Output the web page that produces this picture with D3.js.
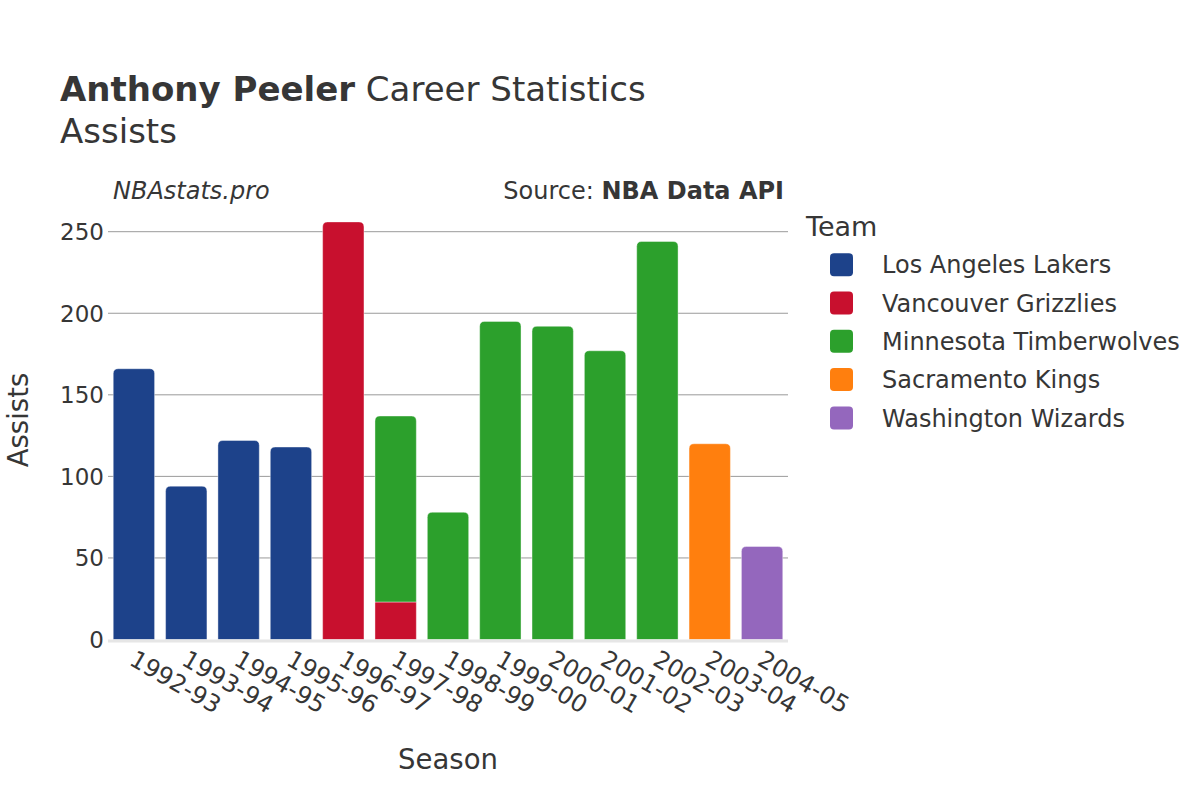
<!DOCTYPE html>
<html>
<head>
<meta charset="utf-8">
<script src="https://cdn.jsdelivr.net/npm/d3@7"></script>
<style>
  body { margin: 0; background: #fff; }
  svg { font-family: "DejaVu Sans", sans-serif; }
</style>
</head>
<body>
<svg id="chart" width="1200" height="800"></svg>
<script>
const seasons = ["1992-93","1993-94","1994-95","1995-96","1996-97","1997-98","1998-99","1999-00","2000-01","2001-02","2002-03","2003-04","2004-05"];
const teams = ["Los Angeles Lakers","Vancouver Grizzlies","Minnesota Timberwolves","Sacramento Kings","Washington Wizards"];
const teamColors = ["#1d428a","#c8102e","#2ca02c","#ff7f0e","#9467bd"];
const lakers       = [166, 94, 122, 118, 0, 0, 0, 0, 0, 0, 0, 0, 0];
const grizzlies    = [0, 0, 0, 0, 256, 23, 0, 0, 0, 0, 0, 0, 0];
const timberwolves = [0, 0, 0, 0, 0, 114, 78, 195, 192, 177, 244, 0, 0];
const kings        = [0, 0, 0, 0, 0, 0, 0, 0, 0, 0, 0, 120, 0];
const wizards      = [0, 0, 0, 0, 0, 0, 0, 0, 0, 0, 0, 0, 57];
const yTicks = [0, 50, 100, 150, 200, 250];

const seriesVals = [lakers, grizzlies, timberwolves, kings, wizards];
const rows = seasons.map((s, i) => {
  const r = { season: s };
  teams.forEach((t, k) => r[t] = seriesVals[k][i]);
  return r;
});
const stacked = d3.stack().keys(teams)(rows);

const svg = d3.select("#chart");
const textColor = "#363636";

const x = d3.scaleBand().domain(seasons).range([108, 788]).paddingInner(0.21).paddingOuter(0.1);
const y = d3.scaleLinear().domain([0, 250]).range([639.5, 231.7]);

// gridlines
svg.append("g").selectAll("line").data(yTicks.filter(d => d > 0)).join("line")
  .attr("x1", 108).attr("x2", 788)
  .attr("y1", d => y(d)).attr("y2", d => y(d))
  .attr("stroke", "#9a9a9a").attr("stroke-width", 1);

// determine top segment per season
const topIdx = seasons.map((s, i) => {
  let t = -1;
  stacked.forEach((layer, k) => { if (layer[i][1] - layer[i][0] > 0) t = k; });
  return t;
});

function barPath(x0, w, yTop, yBot, r) {
  r = Math.min(r, (yBot - yTop), w / 2);
  return `M${x0},${yBot}V${yTop + r}Q${x0},${yTop} ${x0 + r},${yTop}H${x0 + w - r}Q${x0 + w},${yTop} ${x0 + w},${yTop + r}V${yBot}Z`;
}

const barsG = svg.append("g");
stacked.forEach((layer, k) => {
  barsG.append("g").selectAll("path")
    .data(layer.map((d, i) => ({ d, i })).filter(o => o.d[1] - o.d[0] > 0))
    .join("path")
    .attr("d", o => {
      const x0 = x(seasons[o.i]);
      const w = x.bandwidth();
      const yTop = y(o.d[1]), yBot = y(o.d[0]);
      return barPath(x0, w, yTop, yBot, topIdx[o.i] === k ? 5 : 0);
    })
    .attr("fill", teamColors[k])
    .attr("stroke", "#ffffff").attr("stroke-opacity", 0.5).attr("stroke-width", 0.8);
});

// baseline
svg.append("line").attr("x1", 108).attr("x2", 788).attr("y1", y(0) + 1.5).attr("y2", y(0) + 1.5)
  .attr("stroke", "#e6e6e6").attr("stroke-width", 3);

// y axis labels
svg.append("g").selectAll("text").data(yTicks).join("text")
  .attr("x", 104).attr("y", d => y(d)).attr("dy", "0.36em")
  .attr("text-anchor", "end").attr("font-size", 23).attr("fill", textColor)
  .text(d => d);

// x axis labels
svg.append("g").selectAll("text").data(seasons).join("text")
  .attr("transform", d => `translate(${x(d) + x.bandwidth() / 2 - 6},${664}) rotate(30)`)
  .attr("text-anchor", "start").attr("font-size", 24).attr("fill", textColor)
  .text(d => d);

// axis titles
svg.append("text").attr("x", 448).attr("y", 769).attr("text-anchor", "middle")
  .attr("font-size", 27.5).attr("fill", textColor).text("Season");
svg.append("text").attr("transform", "translate(28,420) rotate(-90)").attr("text-anchor", "middle")
  .attr("font-size", 27.5).attr("fill", textColor).text("Assists");

// title
const title = svg.append("text").attr("x", 60).attr("y", 101).attr("font-size", 34).attr("fill", textColor);
title.append("tspan").attr("font-weight", "bold").text("Anthony Peeler");
title.append("tspan").text(" Career Statistics");
svg.append("text").attr("x", 60).attr("y", 143).attr("font-size", 34).attr("fill", textColor).text("Assists");

// subtitle / source
svg.append("text").attr("x", 113).attr("y", 199).attr("font-size", 24).attr("font-style", "italic")
  .attr("fill", textColor).text("NBAstats.pro");
const src = svg.append("text").attr("x", 784).attr("y", 199).attr("font-size", 24).attr("text-anchor", "end").attr("fill", textColor);
src.append("tspan").text("Source: ");
src.append("tspan").attr("font-weight", "bold").text("NBA Data API");

// legend
svg.append("text").attr("x", 806).attr("y", 236).attr("font-size", 27).attr("fill", textColor).text("Team");
const leg = svg.append("g").selectAll("g").data(teams).join("g")
  .attr("transform", (d, i) => `translate(0,${264.7 + i * 38.3})`);
leg.append("rect").attr("x", 830).attr("y", -11.5).attr("width", 23).attr("height", 23).attr("rx", 4)
  .attr("fill", (d, i) => teamColors[i]);
leg.append("text").attr("x", 882).attr("y", 0).attr("dy", "0.36em").attr("font-size", 24)
  .attr("fill", textColor).text(d => d);
</script>
</body>
</html>
